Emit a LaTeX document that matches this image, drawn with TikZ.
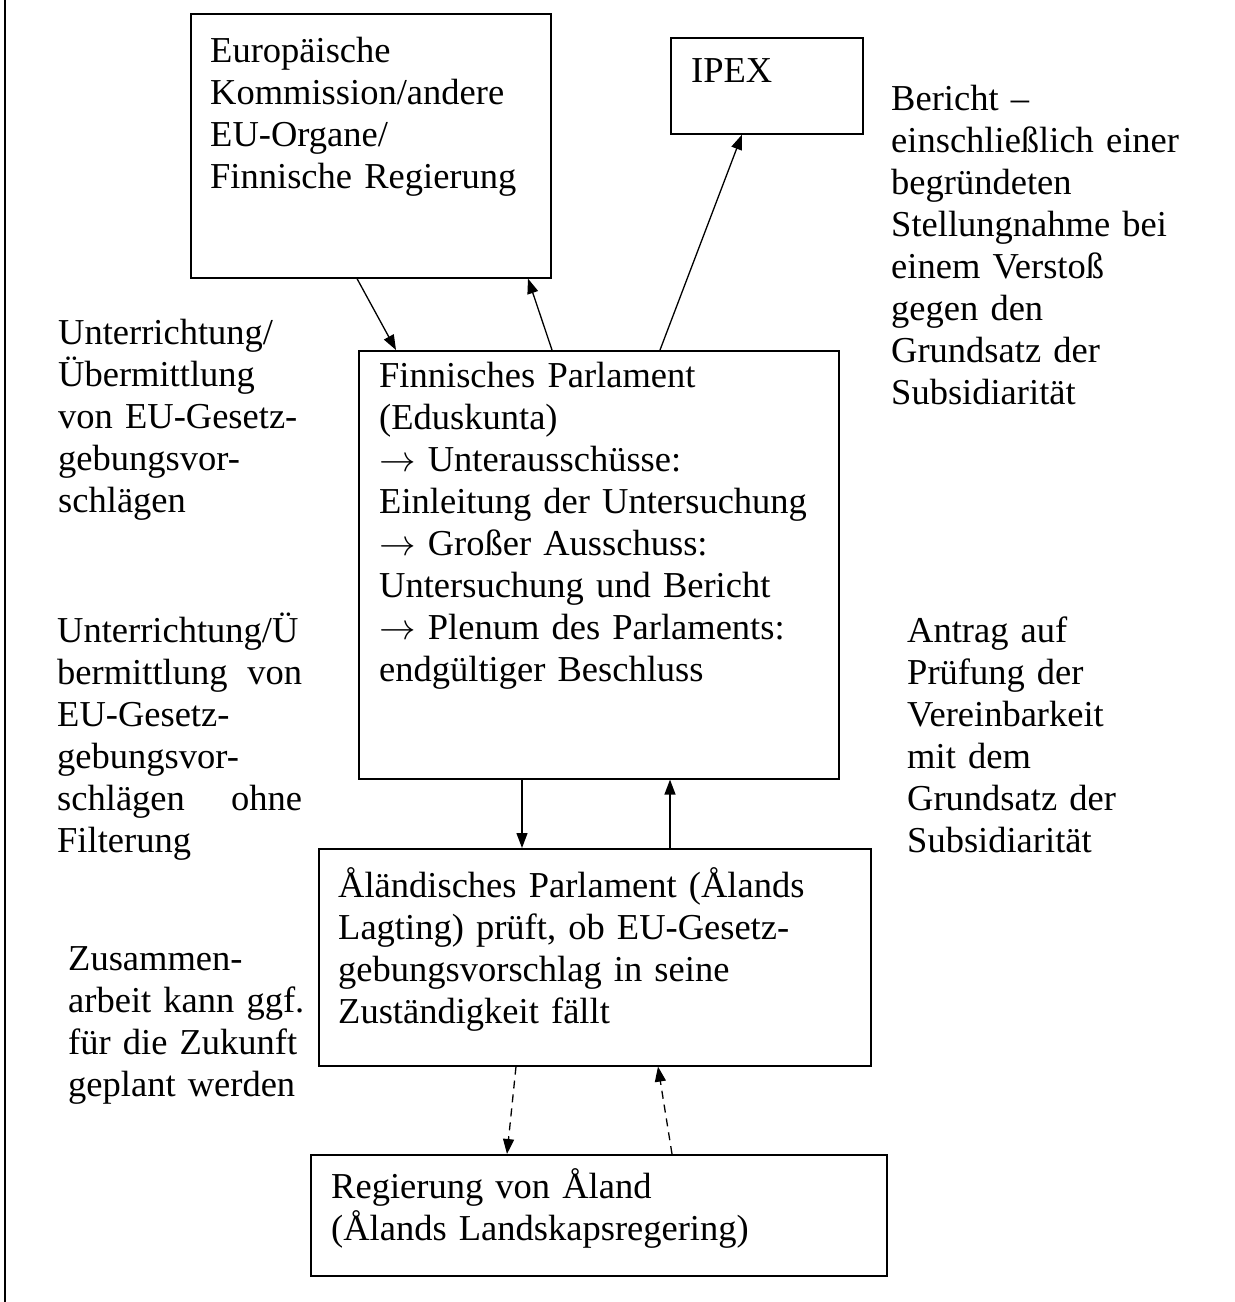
\RequirePackage{fix-cm}
\documentclass[tikz,border=0pt]{standalone}
\usepackage{fontspec}
\setmainfont{Liberation Serif}
\usetikzlibrary{arrows.meta}
\newcommand{\ra}{\(\rightarrow\)}
\begin{document}
\begin{tikzpicture}[x=1pt,y=-1pt,
  box/.style={draw,line width=1.6pt,rectangle,anchor=north west,inner sep=0pt},
  txt/.style={inner sep=0pt,anchor=base west,align=left,text width=#1,
     font=\fontsize{36.5}{42}\selectfont},
  txt/.default=480pt,
  arr/.style={line width=1.3pt,-{Triangle[length=15pt,width=11pt]}},
  darr/.style={arr,dash pattern=on 8pt off 6pt}]
\useasboundingbox (0,0) rectangle (1235,1302);
\draw[line width=1.6pt] (5,0) -- (5,1302);
% boxes
\node[box,minimum width=360pt,minimum height=264pt] (eu) at (190,13) {};
\node[box,minimum width=192pt,minimum height=96pt] (ipex) at (670,37) {};
\node[box,minimum width=480pt,minimum height=428pt] (fp) at (358,350) {};
\node[box,minimum width=552pt,minimum height=217pt] (al) at (318,848) {};
\node[box,minimum width=576pt,minimum height=121pt] (rg) at (310,1154) {};
% box texts
\node[txt] (eut) at (210,62) {Europäische\\Kommission/andere\\EU-Organe/\\Finnische Regierung};
\node[txt] (ipext) at (691,82) {IPEX};
\node[txt] (fpt) at (379,387) {Finnisches Parlament\\(Eduskunta)\\\ra{} Unterausschüsse:\\Einleitung der Untersuchung\\\ra{} Großer Ausschuss:\\Untersuchung und Bericht\\\ra{} Plenum des Parlaments:\\endgültiger Beschluss};
\node[txt] (alt) at (338,897) {Åländisches Parlament (Ålands\\Lagting) prüft, ob EU-Gesetz-\\gebungsvorschlag in seine\\Zuständigkeit fällt};
\node[txt] (rgt) at (331,1198) {Regierung von Åland\\(Ålands Landskapsregering)};
% free labels
\node[txt] (l1) at (58,344) {Unterrichtung/\\Übermittlung\\von EU-Gesetz-\\gebungsvor-\\schlägen};
\node[txt=245pt] (l2) at (57,642) {Unterrichtung/Ü\\bermittlung\hfill von\\EU-Gesetz-\\gebungsvor-\\schlägen\hfill ohne\\Filterung};
\node[txt] (l3) at (68,970) {Zusammen-\\arbeit kann ggf.\\für die Zukunft\\geplant werden};
\node[txt] (r1) at (891,110) {Bericht –\\einschließlich einer\\begründeten\\Stellungnahme bei\\einem Verstoß\\gegen den\\Grundsatz der\\Subsidiarität};
\node[txt] (r2) at (907,642) {Antrag auf\\Prüfung der\\Vereinbarkeit\\mit dem\\Grundsatz der\\Subsidiarität};
% connectors
\draw[arr] ([xshift=167pt]eu.south west) -- ([xshift=38pt]fp.north west);
\draw[arr] ([xshift=194pt]fp.north west) -- ([xshift=338pt]eu.south west);
\draw[arr] ([xshift=302pt]fp.north west) -- ([xshift=72pt]ipex.south west);
\draw[arr] ([xshift=164pt]fp.south west) -- ([xshift=204pt]al.north west);
\draw[arr] ([xshift=352pt]al.north west) -- ([xshift=312pt]fp.south west);
\draw[darr] ([xshift=198pt]al.south west) -- ([xshift=197pt]rg.north west);
\draw[darr] ([xshift=362pt]rg.north west) -- ([xshift=340pt]al.south west);
\end{tikzpicture}
\end{document}
